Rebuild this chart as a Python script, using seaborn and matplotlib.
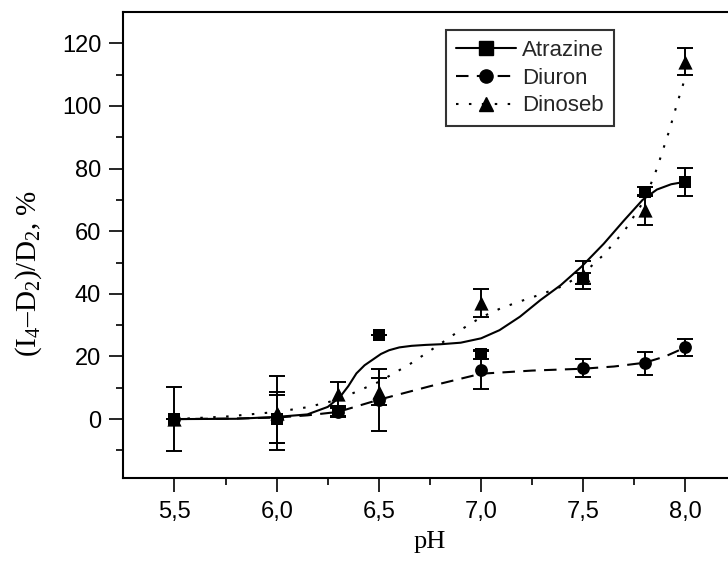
import numpy as np
import pandas as pd
import matplotlib
matplotlib.use("Agg")
import matplotlib.pyplot as plt
from matplotlib.lines import Line2D
import seaborn as sns

# ---- measured points ----
ph = [5.5, 6.0, 6.3, 6.5, 7.0, 7.5, 7.8, 8.0]
atrazine = [0.0, 0.0, 2.5, 27.0, 20.7, 44.9, 72.6, 75.8]
atrazine_err = [0.0, 7.7, 1.5, 0.0, 1.5, 1.7, 1.5, 4.4]
diuron = [0.0, 0.5, 2.2, 6.1, 15.6, 16.2, 17.8, 22.9]
diuron_err = [10.3, 8.2, 1.5, 10.0, 6.1, 2.9, 3.6, 2.6]
dinoseb = [0.0, 2.0, 8.0, 8.7, 37.0, 46.0, 66.8, 114.1]
dinoseb_err = [0.0, 11.9, 3.9, 4.3, 4.4, 4.4, 4.8, 4.3]

# ---- fitted curves ----
atr_fit_x = [5.5, 5.8, 6.0, 6.15, 6.25, 6.31, 6.35, 6.39, 6.43, 6.47, 6.51, 6.55, 6.6, 6.66,
             6.73, 6.8, 6.9, 7.0, 7.09, 7.19, 7.29, 7.39, 7.49, 7.6, 7.7, 7.79, 7.86, 7.93, 8.0]
atr_fit_y = [0.0, 0.1, 0.7, 1.5, 3.9, 7.1, 10.5, 14.6, 17.2, 19.0, 20.8, 22.0, 22.9, 23.4,
             23.7, 23.9, 24.4, 25.8, 28.4, 32.7, 38.0, 42.8, 48.6, 56.0, 63.5, 70.0, 73.3, 75.0, 75.8]
din_fit_x = [5.5, 5.75, 6.0, 6.15, 6.3, 6.5, 6.65, 6.8, 6.9, 7.0, 7.1, 7.2, 7.3, 7.4, 7.5,
             7.6, 7.7, 7.8, 7.86, 7.92, 7.96, 8.0]
din_fit_y = [0.0, 0.8, 2.3, 3.8, 6.2, 11.9, 17.5, 24.0, 28.5, 32.5, 35.5, 37.8, 40.0, 42.5, 46.5,
             52.5, 60.0, 70.0, 80.0, 92.0, 101.0, 109.3]
diu_fit_x = [5.5, 5.8, 6.0, 6.15, 6.3, 6.5, 6.75, 7.0, 7.25, 7.5, 7.65, 7.8, 7.9, 8.0]
diu_fit_y = [0.0, 0.2, 0.5, 1.2, 2.3, 6.2, 10.5, 14.5, 15.5, 16.1, 16.8, 18.0, 20.0, 22.9]

labels = ["Atrazine", "Diuron", "Dinoseb"]
x_ticks = [5.5, 6.0, 6.5, 7.0, 7.5, 8.0]
x_ticklabels = ["5,5", "6,0", "6,5", "7,0", "7,5", "8,0"]
y_ticks = [0, 20, 40, 60, 80, 100, 120]

sns.set_theme(style="ticks")
plt.rcParams["font.family"] = ["Liberation Sans", "DejaVu Sans"]
plt.rcParams["mathtext.fontset"] = "custom"
plt.rcParams["mathtext.rm"] = "Liberation Serif"
plt.rcParams["mathtext.it"] = "Liberation Serif"

W, H = 728, 569
fig = plt.figure(figsize=(W / 100, H / 100), dpi=100)
left_px, right_px, top_px, bot_px = 123.4, 736.6, 12.0, 478.3
ax = fig.add_axes([left_px / W, 1 - bot_px / H, (right_px - left_px) / W, (bot_px - top_px) / H])

lw = 1.5
styles = {
    "Atrazine": dict(marker="s", ls="-", dashes=None),
    "Diuron": dict(marker="o", ls="--", dashes=(6, 4)),
    "Dinoseb": dict(marker="^", ls=":", dashes=(1.2, 5)),
}

fits = {
    "Atrazine": (atr_fit_x, atr_fit_y),
    "Diuron": (diu_fit_x, diu_fit_y),
    "Dinoseb": (din_fit_x, din_fit_y),
}
pts = {
    "Atrazine": (atrazine, atrazine_err),
    "Diuron": (diuron, diuron_err),
    "Dinoseb": (dinoseb, dinoseb_err),
}

for name in labels:
    fx, fy = fits[name]
    df = pd.DataFrame({"x": fx, "y": fy})
    sns.lineplot(data=df, x="x", y="y", ax=ax, color="black", lw=lw, sort=False, legend=False)
    l = ax.lines[-1]
    if styles[name]["dashes"] is not None:
        l.set_dashes(styles[name]["dashes"])
        l.set_dash_capstyle("butt")

for name in labels:
    vals, errs = pts[name]
    ax.errorbar(ph, vals, yerr=errs, fmt="none", ecolor="black", elinewidth=1.4,
                capsize=6, capthick=1.4)
    dfp = pd.DataFrame({"x": ph, "y": vals})
    sns.scatterplot(data=dfp, x="x", y="y", ax=ax, marker=styles[name]["marker"],
                    color="black", s=85 if name != "Dinoseb" else 105, edgecolor="black",
                    linewidth=0, zorder=5, legend=False)

ax.set_xlim(5.25, 8.25)
ax.set_ylim(-18.9, 130)
ax.set_xticks(x_ticks)
ax.set_xticklabels(x_ticklabels)
ax.set_xticks([5.75, 6.25, 6.75, 7.25, 7.75], minor=True)
ax.set_yticks(y_ticks)
ax.set_yticks([-10, 10, 30, 50, 70, 90, 110], minor=True)
ax.tick_params(axis="both", which="major", direction="out", length=10, width=1.2,
               labelsize=17, color="black", labelcolor="black", pad=6)
ax.tick_params(axis="both", which="minor", direction="out", length=5, width=1.2, color="black")
for s in ["left", "bottom", "top", "right"]:
    ax.spines[s].set_color("black")
    ax.spines[s].set_linewidth(1.5)
ax.spines["right"].set_visible(False)

ax.set_xlabel("pH", fontsize=19, family="Liberation Serif", color="black", labelpad=6)
ax.set_ylabel("(I$_4$\u2013D$_2$)/D$_2$, %", fontsize=21, family="Liberation Serif",
              color="black")
ax.yaxis.set_label_coords(-0.13, 0.44)

handles = []
for name in labels:
    h = Line2D([], [], color="black", lw=lw, marker=styles[name]["marker"], markersize=9.5,
               ls=styles[name]["ls"])
    if styles[name]["dashes"] is not None:
        h.set_dashes(styles[name]["dashes"])
    handles.append(h)
leg = ax.legend(handles, labels, loc="upper left",
                bbox_to_anchor=((445.7 - left_px) / (right_px - left_px),
                                (bot_px - 30) / (bot_px - top_px)),
                fontsize=16, frameon=True, fancybox=False, edgecolor="black",
                handlelength=2.7, handletextpad=0.3, borderpad=0.45,
                labelspacing=0.3, borderaxespad=0)
leg.get_frame().set_linewidth(1.5)

fig.savefig("out.png", dpi=100)
